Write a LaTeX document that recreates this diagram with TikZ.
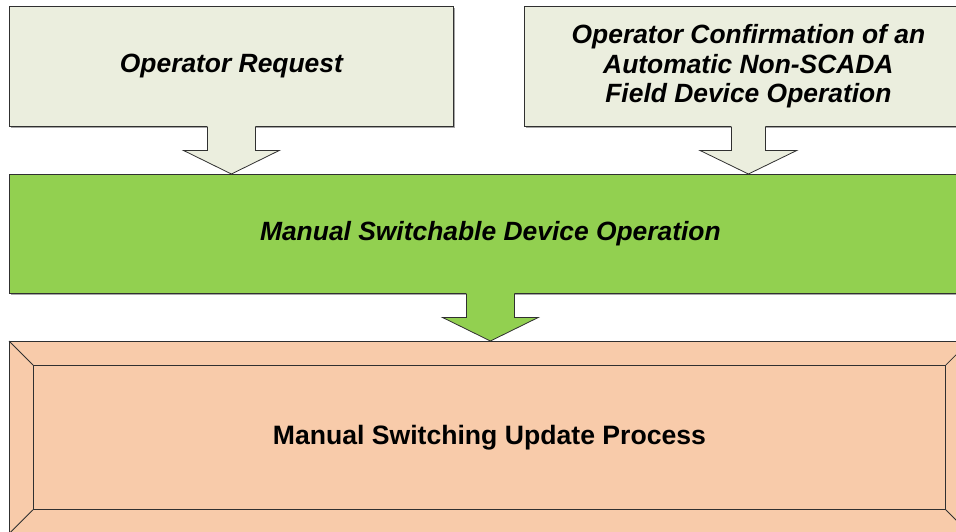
\documentclass[tikz,border=0pt]{standalone}
\usepackage{fontspec}
\setmainfont{Liberation Sans}
\usetikzlibrary{calc,shadows}
\definecolor{paleolive}{HTML}{EBEEDE}
\definecolor{leafgreen}{HTML}{92D050}
\definecolor{peach}{HTML}{F8CBAA}
\definecolor{edgegray}{HTML}{303030}

% block arrow hanging from the bottom of #1 down to the top of #2
% #3 = half width of the stem, #4 = half width of the head, #5 = fill colour
\newcommand\blockarrow[5]{%
  \coordinate (ba-top) at (#1.south);
  \coordinate (ba-tip) at (#1.south |- #2.north);
  \coordinate (ba-neck) at ($(ba-top)!0.5!(ba-tip)$);
  \fill[#5] ($(ba-top)+(-#3,-1)$) -- ($(ba-neck)+(-#3,0)$) -- ($(ba-neck)+(-#4,0)$)
    -- (ba-tip) -- ($(ba-neck)+(#4,0)$) -- ($(ba-neck)+(#3,0)$) -- ($(ba-top)+(#3,-1)$) -- cycle;
  \draw[edgeline] ($(ba-top)+(-#3,0)$) -- ($(ba-neck)+(-#3,0)$) -- ($(ba-neck)+(-#4,0)$)
    -- (ba-tip) -- ($(ba-neck)+(#4,0)$) -- ($(ba-neck)+(#3,0)$) -- ($(ba-top)+(#3,0)$);
}

\begin{document}
\begin{tikzpicture}[x=1pt,y=-1pt,
  edgeline/.style={draw=edgegray,line width=0.8pt,line join=miter},
  panel/.style={edgeline,anchor=north west,inner sep=0pt,align=center,
    drop shadow={shadow xshift=1.2pt,shadow yshift=-1.2pt,fill=black,opacity=0.35}},
  labeltext/.style={font=\fontsize{26.4}{29.5}\selectfont\bfseries\itshape},
]
\useasboundingbox (0,0) rectangle (956,531);
\clip (0,0) rectangle (956,531);

% input boxes
\node[panel,fill=paleolive,minimum width=444pt,minimum height=120pt,labeltext]
  (req) at (9,6) {Operator Request};
\node[panel,fill=paleolive,minimum width=448pt,minimum height=120pt,labeltext]
  (conf) at (524,6) {Operator Confirmation of an\\Automatic Non-SCADA\\Field Device Operation};

% central operation band
\node[panel,fill=leafgreen,minimum width=962pt,minimum height=119pt,labeltext]
  (mso) at (9,174) {Manual Switchable Device Operation};

% bevelled process frame
\node[panel,fill=peach,minimum width=960pt,minimum height=192pt]
  (proc) at (9,341) {};
\draw[edgeline] ($(proc.north west)+(24,24)$) rectangle ($(proc.south east)+(-24,-24)$);
\draw[edgeline] (proc.north west) -- ++(24,24);
\draw[edgeline] (proc.north east) -- ++(-24,24);
\draw[edgeline] (proc.south west) -- ++(24,-24);
\draw[edgeline] (proc.south east) -- ++(-24,-24);
\node[font=\fontsize{26.6}{31}\selectfont\bfseries] (proctext) at (proc.center)
  {Manual Switching Update Process};

% connecting block arrows
\blockarrow{req}{mso}{24}{48}{paleolive}
\blockarrow{conf}{mso}{17}{48.5}{paleolive}
\blockarrow{mso}{proc}{24}{48}{leafgreen}
\end{tikzpicture}
\end{document}
